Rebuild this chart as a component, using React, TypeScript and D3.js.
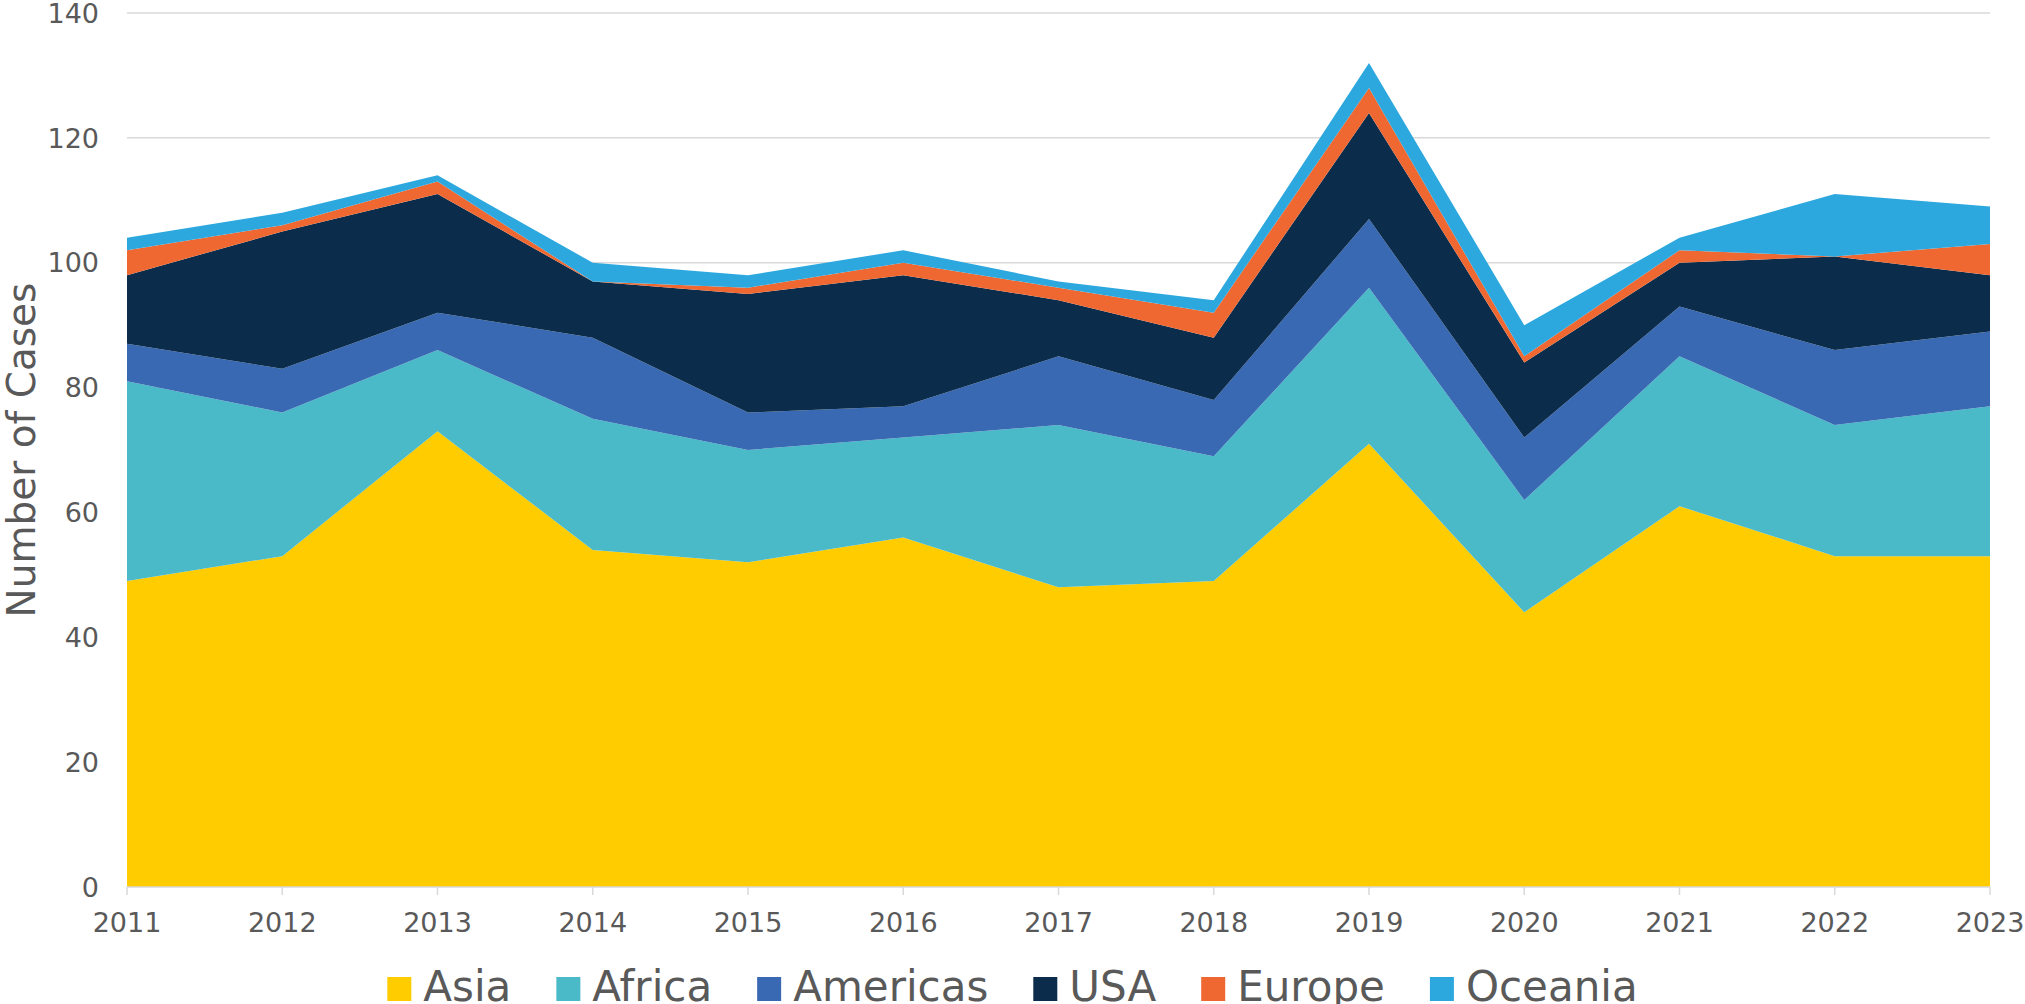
import { useEffect, useRef, useState } from "react";
import { area, scaleLinear, stack } from "d3";

const years = [2011, 2012, 2013, 2014, 2015, 2016, 2017, 2018, 2019, 2020, 2021, 2022, 2023];
const regions = ["Asia", "Africa", "Americas", "USA", "Europe", "Oceania"];
const colors = ["#FFCC00", "#4AB9C8", "#3A69B3", "#0B2D4B", "#F06831", "#2CA8DF"];

const asia = [49, 53, 73, 54, 52, 56, 48, 49, 71, 44, 61, 53, 53];
const africa = [32, 23, 13, 21, 18, 16, 26, 20, 25, 18, 24, 21, 24];
const americas = [6, 7, 6, 13, 6, 5, 11, 9, 11, 10, 8, 12, 12];
const usa = [11, 22, 19, 9, 19, 21, 9, 10, 17, 12, 7, 15, 9];
const europe = [4, 1, 2, 0, 1, 2, 2, 4, 4, 1, 2, 0, 5];
const oceania = [2, 2, 1, 3, 2, 2, 1, 2, 4, 5, 2, 10, 6];

const yTicks = [0, 20, 40, 60, 80, 100, 120, 140];

const width = 2025;
const height = 1004;
const margin = { top: 13, right: 35, bottom: 117, left: 127 };
const font = "'DejaVu Sans', sans-serif";
const textColor = "#595959";

export default function App() {
  const legendRef = useRef<SVGGElement>(null);
  const [legendWidths, setLegendWidths] = useState<number[] | null>(null);

  const series = [asia, africa, americas, usa, europe, oceania];
  const rows = years.map((year, i) => {
    const row: any = { year };
    regions.forEach((r, k) => (row[r] = series[k][i]));
    return row;
  });
  const stacked = stack().keys(regions)(rows);

  const x = scaleLinear()
    .domain([years[0], years[years.length - 1]])
    .range([margin.left, width - margin.right]);
  const y = scaleLinear()
    .domain([0, 140])
    .range([height - margin.bottom, margin.top]);

  const areaGen = area<any>()
    .x((d) => x(d.data.year))
    .y0((d) => y(d[0]))
    .y1((d) => y(d[1]));

  useEffect(() => {
    if (!legendRef.current) return;
    const texts = legendRef.current.querySelectorAll("text");
    setLegendWidths(Array.from(texts).map((t) => (t as SVGTextElement).getComputedTextLength()));
  }, []);

  // legend layout: square, gap, label, gap
  const sq = 24;
  const sqGap = 12;
  const itemGap = 45;
  const widths = legendWidths || regions.map(() => 100);
  const total =
    widths.reduce((a, w) => a + sq + sqGap + w, 0) + itemGap * (regions.length - 1);
  let cursor = width / 2 - total / 2;
  const legendX = widths.map((w) => {
    const pos = cursor;
    cursor += sq + sqGap + w + itemGap;
    return pos;
  });

  return (
    <svg
      width={width}
      height={height}
      style={{ position: "absolute", left: 0, top: 0, display: "block", background: "#fff" }}
    >
      {yTicks.slice(1).map((t) => (
        <line
          key={t}
          x1={margin.left}
          x2={width - margin.right}
          y1={y(t)}
          y2={y(t)}
          stroke="#D9D9D9"
          strokeWidth={1.5}
        />
      ))}

      {stacked.map((s, i) => (
        <path key={regions[i]} d={areaGen(s as any) || ""} fill={colors[i]} />
      ))}

      <line
        x1={margin.left}
        x2={width - margin.right}
        y1={y(0)}
        y2={y(0)}
        stroke="#D9D9D9"
        strokeWidth={1.5}
      />
      {years.map((yr) => (
        <g key={yr}>
          <line x1={x(yr)} x2={x(yr)} y1={y(0)} y2={y(0) + 8} stroke="#D9D9D9" strokeWidth={1.5} />
          <text
            x={x(yr)}
            y={y(0) + 45}
            textAnchor="middle"
            fontFamily={font}
            fontSize={27}
            fill={textColor}
          >
            {yr}
          </text>
        </g>
      ))}

      {yTicks.map((t) => (
        <text
          key={t}
          x={99}
          y={y(t)}
          dy="0.36em"
          textAnchor="end"
          fontFamily={font}
          fontSize={27}
          fill={textColor}
        >
          {t}
        </text>
      ))}

      <text
        transform={`translate(35, ${(y(0) + y(140)) / 2}) rotate(-90)`}
        textAnchor="middle"
        fontFamily={font}
        fontSize={39}
        fill={textColor}
      >
        Number of Cases
      </text>

      <g ref={legendRef} style={{ visibility: legendWidths ? "visible" : "hidden" }}>
        {regions.map((r, i) => (
          <g key={r} transform={`translate(${legendX[i]}, 0)`}>
            <rect x={0} y={977} width={sq} height={sq} fill={colors[i]} />
            <text x={sq + sqGap} y={1001} fontFamily={font} fontSize={42} fill={textColor}>
              {r}
            </text>
          </g>
        ))}
      </g>
    </svg>
  );
}
